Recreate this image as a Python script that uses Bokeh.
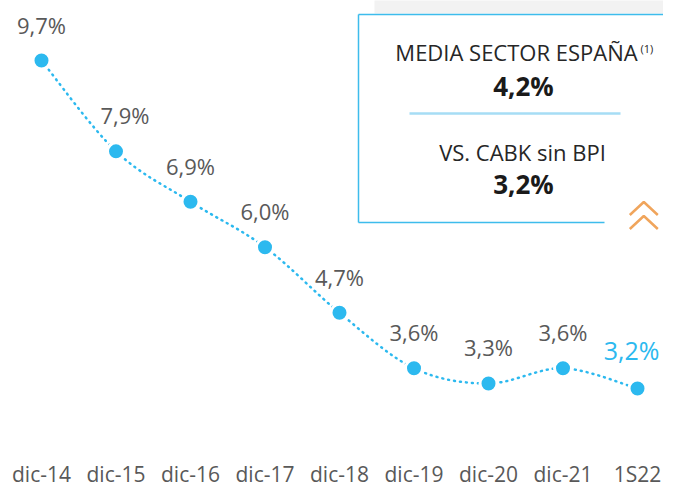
from bokeh.plotting import figure
from bokeh.models import ColumnDataSource, FixedTicker, Range1d
from bokeh.core.properties import value
from bokeh.embed import file_html
from bokeh.resources import INLINE

# ---- data ----
categories = ["dic-14", "dic-15", "dic-16", "dic-17", "dic-18", "dic-19", "dic-20", "dic-21", "1S22"]
ratio = [9.7, 7.9, 6.9, 6.0, 4.7, 3.6, 3.3, 3.6, 3.2]
ratio_labels = ["9,7%", "7,9%", "6,9%", "6,0%", "4,7%", "3,6%", "3,3%", "3,6%", "3,2%"]
box_title_1 = "MEDIA SECTOR ESPAÑA"
box_note = "(1)"
box_value_1 = "4,2%"
box_title_2 = "VS. CABK sin BPI"
box_value_2 = "3,2%"

FONT = "Open Sans"
BLUE = "#2cb9ef"
GREY = "#595959"

# ---- layout helpers (pixel -> data) ----
XS = 74.5          # px per category
X0 = 41            # px of first category
YS = 50.46         # px per unit
FW, FH = 663, 447
x_start = -X0 / XS
x_end = x_start + FW / XS
y_end = ratio[0] + 60 / YS
y_start = y_end - FH / YS


def px(ix):
    return (ix - X0) / XS


def py(iy):
    return ratio[0] - (iy - 60) / YS


p = figure(frame_width=FW, frame_height=FH, output_backend="svg", toolbar_location=None,
           x_range=Range1d(x_start, x_end), y_range=Range1d(y_start, y_end),
           y_axis_location=None, min_border_left=0, min_border_right=0,
           min_border_top=0, min_border_bottom=0)
p.grid.visible = False
p.outline_line_color = None
p.background_fill_color = "white"

xs = list(range(len(categories)))

# gray background strip top-right
p.quad(left=[px(374)], right=[px(700)], top=[py(-5)], bottom=[py(13)],
       fill_color="#f2f2f2", line_color=None)

# box borders
p.segment(x0=[px(358), px(358), px(358)], y0=[py(14), py(14), py(222)],
          x1=[px(358), px(700), px(604)], y1=[py(222), py(14), py(222)],
          line_color="#3dbcec", line_width=1.5)
# divider
p.segment(x0=[px(409)], y0=[py(113)], x1=[px(620)], y1=[py(113)],
          line_color="#a6ddf5", line_width=2.5)

# box texts
p.text(x=[px(516)], y=[py(51)], text=[box_title_1], text_align="center", text_baseline="middle",
       text_font=value(FONT), text_font_size=value("22px"), text_color="#262626")
p.text(x=[px(640)], y=[py(48)], text=[box_note], text_align="left", text_baseline="middle",
       text_font=value(FONT), text_font_size=value("11px"), text_color="#262626")
p.text(x=[px(523)], y=[py(85.5)], text=[box_value_1], text_align="center", text_baseline="middle",
       text_font=value(FONT), text_font_size=value("26px"), text_font_style="bold", text_color="#1a1a1a")
p.text(x=[px(522)], y=[py(151)], text=[box_title_2], text_align="center", text_baseline="middle",
       text_font=value(FONT), text_font_size=value("22px"), text_color="#262626")
p.text(x=[px(523)], y=[py(183.5)], text=[box_value_2], text_align="center", text_baseline="middle",
       text_font=value(FONT), text_font_size=value("26px"), text_font_style="bold", text_color="#1a1a1a")

# chevrons
p.multi_line(xs=[[px(629.3), px(643.3), px(657.3)], [px(629.3), px(643.3), px(657.3)]],
             ys=[[py(214.5), py(201.5), py(214.5)], [py(228.5), py(215.5), py(228.5)]],
             line_color="#f0a55c", line_width=2.5)

# smooth dotted connection (Catmull-Rom bezier between data points)
n = len(xs)
x0s, y0s, x1s, y1s, cx0, cy0, cx1, cy1 = [], [], [], [], [], [], [], []
for i in range(n - 1):
    xa, ya = xs[i], ratio[i]
    xb, yb = xs[i + 1], ratio[i + 1]
    xp, yp = (xs[i - 1], ratio[i - 1]) if i > 0 else (xa, ya)
    xn, yn = (xs[i + 2], ratio[i + 2]) if i + 2 < n else (xb, yb)
    x0s.append(xa); y0s.append(ya); x1s.append(xb); y1s.append(yb)
    cx0.append(xa + (xb - xp) / 6); cy0.append(ya + (yb - yp) / 6)
    cx1.append(xb - (xn - xa) / 6); cy1.append(yb - (yn - ya) / 6)
p.bezier(x0=x0s, y0=y0s, x1=x1s, y1=y1s, cx0=cx0, cy0=cy0, cx1=cx1, cy1=cy1,
         line_color=BLUE, line_width=2.5, line_dash="1 5", line_cap="round")

# markers
p.scatter(x=xs, y=ratio, size=17, fill_color=BLUE, line_color="white", line_width=3)

# data labels
dx = [0] * n
dx[1] = 9
src = ColumnDataSource(dict(x=xs[:-1], y=ratio[:-1], t=ratio_labels[:-1], dx=dx[:-1]))
p.text(x="x", y="y", text="t", source=src, x_offset="dx", y_offset=-36,
       text_align="center", text_baseline="middle",
       text_font=value(FONT), text_font_size=value("22px"), text_color=GREY)
p.text(x=[xs[-1]], y=[ratio[-1]], text=[ratio_labels[-1]], x_offset=-6, y_offset=-38,
       text_align="center", text_baseline="middle",
       text_font=value(FONT), text_font_size=value("25px"), text_color=BLUE)

# x axis
p.xaxis.ticker = FixedTicker(ticks=xs)
p.xaxis.major_label_overrides = {i: c for i, c in enumerate(categories)}
p.xaxis.axis_line_color = None
p.xaxis.major_tick_line_color = None
p.xaxis.minor_tick_line_color = None
p.xaxis.major_label_standoff = 6
p.xaxis.major_label_text_font = FONT
p.xaxis.major_label_text_font_size = "21px"
p.xaxis.major_label_text_color = GREY

open("out.html", "w").write(file_html(p, INLINE))
